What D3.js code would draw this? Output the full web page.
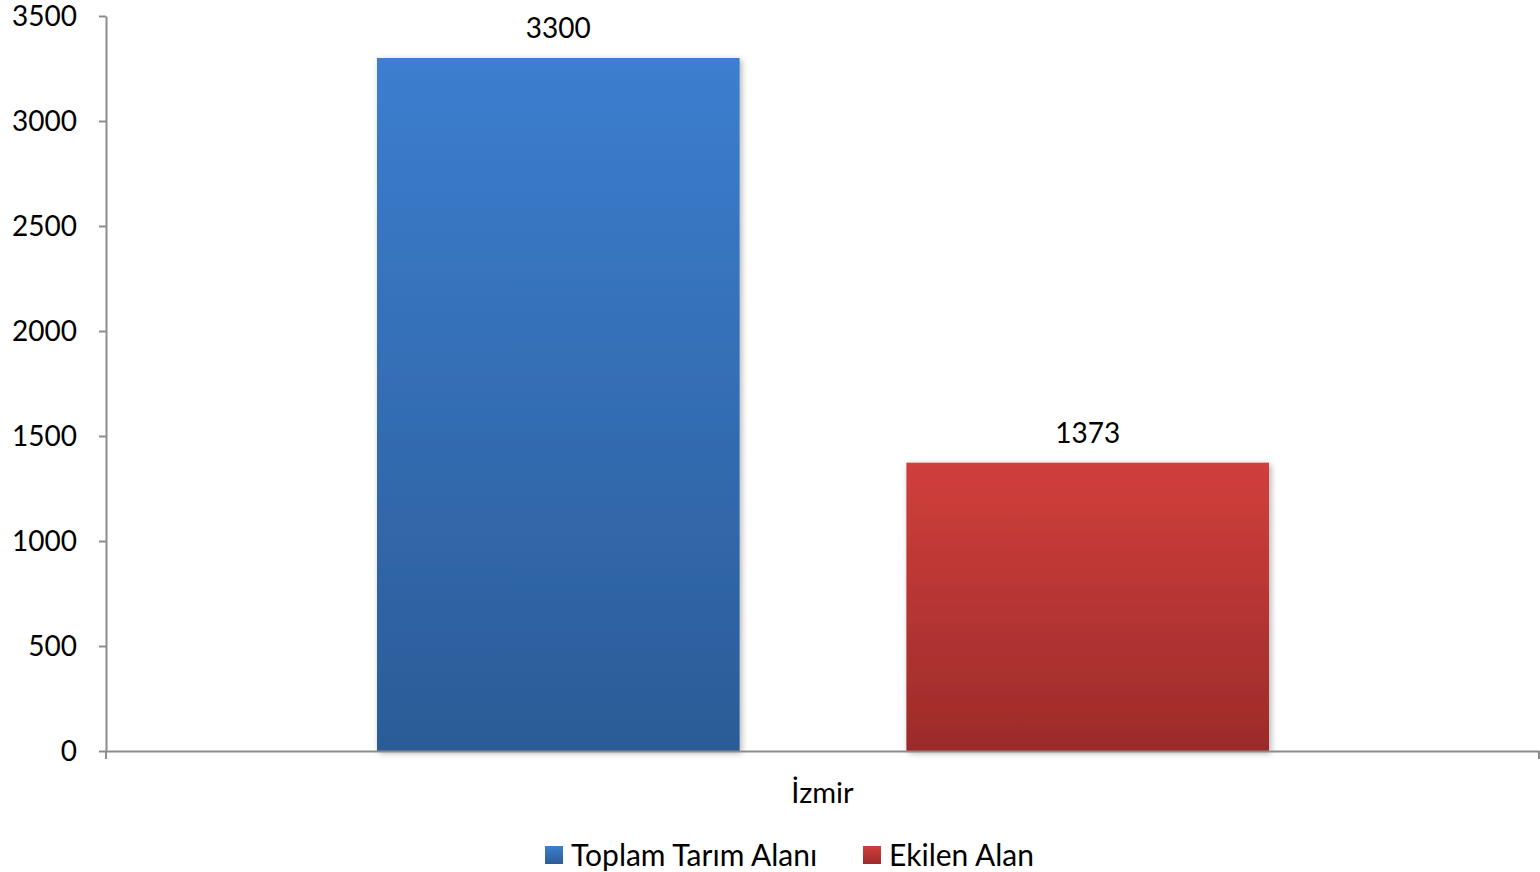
<!DOCTYPE html>
<html>
<head>
<meta charset="utf-8">
<script src="https://cdn.jsdelivr.net/npm/d3@7"></script>
<style>
  body { margin: 0; background: #fff; }
  text { font-family: Lato, "Open Sans", sans-serif; fill: #000; }
</style>
</head>
<body>
<script>
const width = 1540;
const height = 872;

// data
const categories = ['İzmir'];
const seriesNames = ['Toplam Tarım Alanı', 'Ekilen Alan'];
const seriesValues = [[3300], [1373]];
const yTicks = [0, 500, 1000, 1500, 2000, 2500, 3000, 3500];

const colors = [
  { top: '#3c7ecf', bottom: '#2b5c97' },
  { top: '#d03f3c', bottom: '#9c2b29' }
];

const margin = { left: 106, right: 1, top: 16, bottom: 121 };

const svg = d3.select('body').append('svg')
  .attr('width', width)
  .attr('height', height);

const defs = svg.append('defs');
colors.forEach((c, i) => {
  const g = defs.append('linearGradient')
    .attr('id', 'grad' + i)
    .attr('x1', 0).attr('y1', 0).attr('x2', 0).attr('y2', 1);
  g.append('stop').attr('offset', '0%').attr('stop-color', c.top);
  g.append('stop').attr('offset', '100%').attr('stop-color', c.bottom);
});
const filt = defs.append('filter').attr('id', 'shadow')
  .attr('x', '-5%').attr('y', '-5%').attr('width', '115%').attr('height', '115%');
filt.append('feDropShadow').attr('dx', 2).attr('dy', 2).attr('stdDeviation', 3)
  .attr('flood-color', '#000').attr('flood-opacity', 0.3);

const x0 = d3.scaleBand()
  .domain(categories)
  .range([margin.left, width - margin.right])
  .padding(0);

const x1 = d3.scaleBand()
  .domain(seriesNames)
  .range([271, x0.bandwidth() - 270])
  .paddingInner(0.315);

const y = d3.scaleLinear()
  .domain([0, 3500])
  .range([height - margin.bottom, margin.top]);

// bars
categories.forEach((cat, ci) => {
  seriesNames.forEach((s, si) => {
    const v = seriesValues[si][ci];
    const bx = x0(cat) + x1(s);
    svg.append('rect')
      .attr('x', bx)
      .attr('y', y(v))
      .attr('width', x1.bandwidth())
      .attr('height', y(0) - y(v))
      .attr('fill', 'url(#grad' + si + ')')
      .attr('filter', 'url(#shadow)');
    svg.append('text')
      .attr('x', bx + x1.bandwidth() / 2)
      .attr('y', y(v) - 20)
      .attr('text-anchor', 'middle')
      .style('font-size', '28px')
      .text(v);
  });
});

// y axis
const yAxis = svg.append('g')
  .attr('transform', `translate(${margin.left},0)`)
  .call(d3.axisLeft(y).tickValues(yTicks).tickFormat(d3.format('d'))
    .tickSize(7).tickSizeOuter(0).tickPadding(22));
yAxis.selectAll('path, line').attr('stroke', '#8c8c8c').attr('stroke-width', 2);
yAxis.selectAll('text').style('font-size', '28px').attr('dy', '0.35em');

// x axis
const xAxis = svg.append('g')
  .attr('transform', `translate(0,${y(0)})`)
  .call(d3.axisBottom(x0).tickSize(0).tickSizeOuter(0).tickPadding(31));
xAxis.select('.domain').attr('stroke', '#8c8c8c').attr('stroke-width', 2);
xAxis.selectAll('text').style('font-size', '29px');
// boundary ticks of the category axis
xAxis.selectAll('.bound')
  .data(x0.range())
  .enter().append('line')
  .attr('x1', d => d).attr('x2', d => d)
  .attr('y1', 0).attr('y2', 8)
  .attr('stroke', '#8c8c8c').attr('stroke-width', 2);

// legend
const legend = svg.append('g').attr('transform', 'translate(0,855)');
const legX = [545, 863];
seriesNames.forEach((s, i) => {
  const g = legend.append('g').attr('transform', `translate(${legX[i]},0)`);
  g.append('rect').attr('x', 0).attr('y', -9).attr('width', 18).attr('height', 18)
    .attr('fill', 'url(#grad' + i + ')');
  g.append('text').attr('x', 26).attr('dy', '0.35em')
    .style('font-size', '30px').text(s);
});
</script>
</body>
</html>
